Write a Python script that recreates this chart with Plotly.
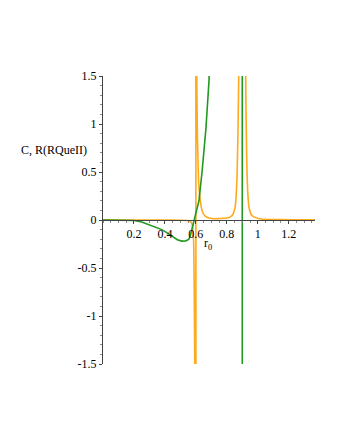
import plotly.graph_objects as go

# green curve C (pole at r0 = 0.9)
c_x = [0, 0.1, 0.15, 0.2, 0.25, 0.3, 0.34, 0.38, 0.42, 0.445, 0.48, 0.51,
       0.535, 0.555, 0.565, 0.574, 0.581, 0.587, 0.6, 0.62, 0.64, 0.665,
       0.685, 0.7, 0.75, 0.8, 0.85, 0.88, 0.895,
       0.9, 0.9, 0.905, 0.92, 0.95, 1.0, 1.1, 1.2, 1.37]
c_y = [0, 0, -0.001, -0.005, -0.02, -0.05, -0.075, -0.1, -0.14, -0.17, -0.205,
       -0.22, -0.218, -0.2, -0.16, -0.1, -0.05, 0, 0.07, 0.2, 0.5, 0.95,
       1.45, 1.9, 3, 5, 10, 20, 50,
       100, -100, -50, -20, -10, -6, -4, -3, -2.5]

# orange curve R(RQueII) (poles at r0 ~ 0.597 and 0.9)
r_x = [0, 0.2, 0.4, 0.5, 0.55, 0.568, 0.578, 0.585, 0.59, 0.593, 0.596, 0.598,
       0.6, 0.603, 0.606, 0.61, 0.62, 0.64, 0.66, 0.7, 0.75, 0.8, 0.82, 0.84,
       0.855, 0.865, 0.872, 0.877, 0.885, 0.893, 0.9, 0.907, 0.915, 0.922,
       0.928, 0.935, 0.945, 0.96, 0.98, 1.02, 1.1, 1.2, 1.37]
r_y = [0, 0, -0.001, -0.003, -0.006, -0.02, -0.06, -0.2, -0.8, -1.6, -100, 100,
       5, 2.5, 1.5, 0.9, 0.35, 0.1, 0.04, 0.015, 0.015, 0.02, 0.03, 0.06,
       0.15, 0.4, 0.9, 1.5, 4, 20, 100, 20, 4, 1.5, 0.7, 0.3, 0.12, 0.05,
       0.03, 0.01, 0.005, 0.003, 0.001]

x_ticks = [0.2, 0.4, 0.6, 0.8, 1, 1.2]
x_labels = ["0.2", "0.4", "0.6", "0.8", "1", "1.2"]
y_ticks = [-1.5, -1, -0.5, 0, 0.5, 1, 1.5]
y_labels = ["-1.5", "-1", "-0.5", "0", "0.5", "1", "1.5"]

font = dict(family="Liberation Serif, Times New Roman, serif", size=12, color="black")

fig = go.Figure()
fig.add_trace(go.Scatter(x=r_x, y=r_y, mode="lines",
                         line=dict(color="#ffaa1a", width=1.6, shape="spline", smoothing=0.6)))
fig.add_trace(go.Scatter(x=c_x, y=c_y, mode="lines",
                         line=dict(color="#1f9a1f", width=1.6)))

fig.update_layout(
    width=331, height=431,
    margin=dict(l=95, r=24, t=68, b=75),
    plot_bgcolor="white", paper_bgcolor="white",
    showlegend=False, font=font,
    xaxis=dict(range=[0, 1.37], anchor="free", position=0.5,
               tickvals=x_ticks, ticktext=x_labels,
               showgrid=False, zeroline=False,
               showline=True, linecolor="#444", linewidth=1,
               ticks="outside", ticklen=3, tickcolor="#444",
               minor=dict(ticks="outside", ticklen=2, dtick=0.05, tickcolor="#888")),
    yaxis=dict(range=[-1.5, 1.5], tickvals=y_ticks, ticktext=y_labels,
               showgrid=False, zeroline=False,
               showline=True, linecolor="#444", linewidth=1,
               ticks="outside", ticklen=3, tickcolor="#444",
               minor=dict(ticks="outside", ticklen=2, dtick=0.1, tickcolor="#888")),
    annotations=[
        dict(text="C, R(RQueII)", xref="paper", yref="paper",
             x=-0.23, y=0.743, xanchor="center", yanchor="middle",
             showarrow=False, font=font),
        dict(text="r<sub>0</sub>", xref="x", yref="y",
             x=0.677, y=-0.25, xanchor="center", yanchor="middle",
             showarrow=False, font=font),
    ],
)

fig.write_html("out.html")
